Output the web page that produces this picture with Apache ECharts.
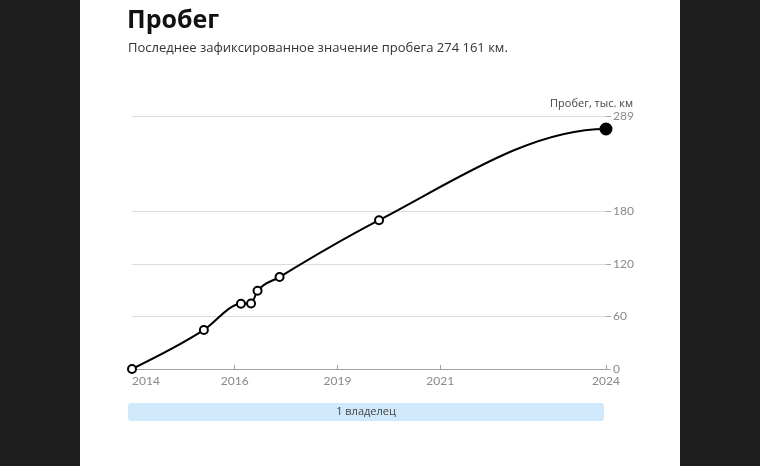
<!DOCTYPE html>
<html>
<head>
<meta charset="utf-8">
<script src="https://cdn.jsdelivr.net/npm/echarts@6/dist/echarts.min.js"></script>
<style>
  html, body { margin: 0; padding: 0; width: 760px; height: 466px; background: #1e1e1e; overflow: hidden; }
  #panel { position: absolute; left: 80px; top: 0; width: 600px; height: 466px; background: #ffffff; }
  #chart { position: absolute; left: 0; top: 0; width: 760px; height: 466px; }
</style>
</head>
<body>
<div id="panel"></div>
<div id="chart"></div>
<script>
// ---- data ----
const dates = ['2014-09-13', '2016-03-28', '2017-01-12', '2017-04-01', '2017-05-22', '2017-11-10', '2019-12-28', '2024-11-06'];
const mileage = [0, 44.6, 74.6, 74.8, 89.4, 105, 170, 274.161];
const tickDates = ['2014-09-13', '2016-11-24', '2019-02-06', '2021-04-20', '2024-11-06'];
const tickLabels = ['2014', '2016', '2019', '2021', '2024'];
const yTicks = [0, 60, 120, 180, 289];
const yMax = 289;
const owners = [['2014-09-13', '2024-11-06', '1 владелец']];

const ts = d => new Date(d + 'T00:00:00Z').getTime();
const tickTs = tickDates.map(ts);
const xs = dates.map(ts);
const seriesData = xs.map((x, i) => {
  const item = { value: [x, mileage[i]] };
  if (i === xs.length - 1) {
    item.symbolSize = 11;
    item.itemStyle = { color: '#000', borderColor: '#000' };
  }
  return item;
});

// monotone cubic path (in pixel space), flat at the final point
function monotonePath(pts) {
  const n = pts.length;
  const t = new Array(n).fill(0);
  const sgn = v => (v > 0 ? 1 : v < 0 ? -1 : 0);
  for (let i = 1; i < n - 1; i++) {
    const h0 = pts[i][0] - pts[i - 1][0], h1 = pts[i + 1][0] - pts[i][0];
    const s0 = (pts[i][1] - pts[i - 1][1]) / h0, s1 = (pts[i + 1][1] - pts[i][1]) / h1;
    const p = (s0 * h1 + s1 * h0) / (h0 + h1);
    t[i] = (sgn(s0) + sgn(s1)) * Math.min(Math.abs(s0), Math.abs(s1), 0.5 * Math.abs(p)) || 0;
  }
  const hs = pts[1][0] - pts[0][0];
  t[0] = (3 * (pts[1][1] - pts[0][1]) / hs - t[1]) / 2;
  t[n - 1] = 0;
  let d = 'M' + pts[0][0] + ',' + pts[0][1];
  for (let i = 0; i < n - 1; i++) {
    const dx = (pts[i + 1][0] - pts[i][0]) / 3;
    d += ' C' + (pts[i][0] + dx) + ',' + (pts[i][1] + dx * t[i]) + ' ' +
         (pts[i + 1][0] - dx) + ',' + (pts[i + 1][1] - dx * t[i + 1]) + ' ' +
         pts[i + 1][0] + ',' + pts[i + 1][1];
  }
  return d;
}

const chart = echarts.init(document.getElementById('chart'), null, { renderer: 'canvas' });
chart.setOption({
  animation: false,
  backgroundColor: 'transparent',
  title: [
    { text: 'Пробег', left: 127, top: 8, padding: 0,
      textStyle: { fontFamily: 'Open Sans', fontWeight: 'bold', fontSize: 25, color: '#111' } },
    { text: 'Последнее зафиксированное значение пробега 274 161 км.', left: 128, top: 42, padding: 0,
      textStyle: { fontFamily: 'Open Sans', fontWeight: 'normal', fontSize: 13, color: '#333' } },
    { text: 'Пробег, тыс. км', right: 127, top: 98, padding: 0,
      textStyle: { fontFamily: 'Open Sans', fontWeight: 'normal', fontSize: 11, color: '#444' } }
  ],
  grid: { left: 132, right: 154, top: 116, bottom: 97, containLabel: false },
  xAxis: {
    type: 'value',
    min: tickTs[0],
    max: tickTs[tickTs.length - 1],
    axisLine: { show: true, lineStyle: { color: '#a0a0a0', width: 1 } },
    axisTick: { show: true, inside: true, length: 4, customValues: tickTs, lineStyle: { color: '#a0a0a0' } },
    axisLabel: {
      customValues: tickTs,
      formatter: function (v) {
        const i = tickTs.indexOf(v);
        return i >= 0 ? tickLabels[i] : '';
      },
      color: '#888', fontFamily: 'Lato', fontSize: 12, margin: 6,
      alignMinLabel: 'left'
    },
    splitLine: { show: false }
  },
  yAxis: {
    type: 'value',
    position: 'right',
    min: 0,
    max: yMax,
    axisLine: { show: false },
    axisTick: { show: true, length: 5, customValues: yTicks, lineStyle: { color: '#aaa' } },
    axisLabel: { customValues: yTicks, color: '#888', fontFamily: 'Lato', fontSize: 12, margin: 7 },
    splitLine: { show: true, lineStyle: { color: '#dcdcdc', width: 1 } }
  },
  series: [
    {
      type: 'custom',
      clip: false,
      encode: { x: 0, y: 1 },
      data: [[xs[0], mileage[0]]],
      renderItem: function (params, api) {
        const pts = xs.map((x, i) => api.coord([x, mileage[i]]));
        return {
          type: 'path',
          shape: { pathData: monotonePath(pts) },
          style: { fill: 'none', stroke: '#000', lineWidth: 2 },
          z2: 1
        };
      },
      z: 3
    },
    {
      type: 'line',
      data: seriesData,
      symbol: 'circle',
      symbolSize: 8,
      showAllSymbol: true,
      lineStyle: { width: 0, opacity: 0 },
      itemStyle: { color: '#fff', borderColor: '#000', borderWidth: 2 },
      z: 5
    },
    {
      type: 'custom',
      clip: false,
      encode: { x: [0, 1], y: 2 },
      data: owners.map(o => [ts(o[0]), ts(o[1]), 0]),
      renderItem: function (params, api) {
        const s = api.coord([api.value(0), 0]);
        const e = api.coord([api.value(1), 0]);
        const x0 = s[0] - 4;
        const w = e[0] - s[0] + 2;
        const y0 = s[1] + 34;
        return {
          type: 'group',
          children: [
            { type: 'rect', shape: { x: x0, y: y0, width: w, height: 18, r: 3 },
              style: { fill: '#cfe8fb' } },
            { type: 'text', style: { text: owners[params.dataIndex][2], x: x0 + w / 2, y: y0 + 9,
              align: 'center', verticalAlign: 'middle', fill: '#444', font: '11px "Open Sans"' } }
          ]
        };
      }
    }
  ]
});
</script>
</body>
</html>
